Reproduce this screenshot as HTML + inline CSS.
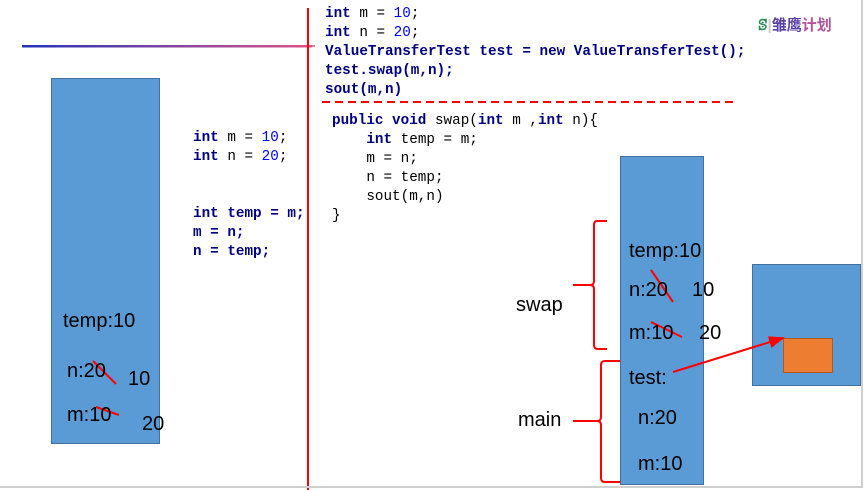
<!DOCTYPE html>
<html><head><meta charset="utf-8"><style>
body{margin:0;width:866px;height:490px;background:#fff;position:relative;overflow:hidden;font-family:"Liberation Sans",sans-serif}
.c{position:absolute;font-family:"Liberation Mono",monospace;font-size:14.3px;line-height:19px;white-space:pre;color:#000}
.k{color:#000080;font-weight:bold}.b{color:#0000ff}
.t{position:absolute;font-size:20px;line-height:20px;color:#000;white-space:pre}
</style></head><body>
<svg width="866" height="490" style="position:absolute;left:0;top:0">
<defs><linearGradient id="g" x1="0" x2="1"><stop offset="0" stop-color="#2233bb"/><stop offset="1" stop-color="#dd5588"/></linearGradient>
<marker id="a" markerWidth="8" markerHeight="8" refX="7" refY="4" orient="auto"><path d="M0,1 L8,4 L0,7z" fill="red"/></marker></defs>
<rect x="22" y="45" width="290" height="2.5" fill="url(#g)"/>
<line x1="300" y1="46" x2="315" y2="46" stroke="#dd5588" stroke-width="1.5"/>
<line x1="308" y1="8" x2="308" y2="490" stroke="red" stroke-width="2"/>
<line x1="322" y1="102" x2="738" y2="102" stroke="red" stroke-width="2" stroke-dasharray="8,5"/>
<rect x="51.5" y="78.5" width="108" height="365" fill="#5b9bd5" stroke="#41719c"/>
<rect x="620.5" y="156.5" width="83" height="328" fill="#5b9bd5" stroke="#41719c"/>
<rect x="752.5" y="264.5" width="108" height="121" fill="#5b9bd5" stroke="#41719c"/>
<rect x="783.5" y="338.5" width="49" height="34" fill="#ed7d31" stroke="#ae5a21"/>
<line x1="673" y1="372" x2="783" y2="338" stroke="red" stroke-width="2" marker-end="url(#a)"/>
<path d="M607,221 H597 Q594,221 594,225 V281 Q594,285 590,285 H573 M590,285 Q594,285 594,289 V345 Q594,349 598,349 H607" fill="none" stroke="red" stroke-width="2"/>
<path d="M620,361 H605 Q601,361 601,365 V417 Q601,421 597,421 H573 M597,421 Q601,421 601,425 V478 Q601,482 605,482 H620" fill="none" stroke="red" stroke-width="2"/>
<g stroke="red" stroke-width="2">
<line x1="93" y1="361" x2="116" y2="384"/><line x1="96" y1="407" x2="119" y2="415"/>
<line x1="651" y1="270" x2="673" y2="302"/><line x1="651" y1="322" x2="682" y2="337"/>
</g>
<line x1="862" y1="0" x2="862" y2="487" stroke="#d0d0d0" stroke-width="2"/>
<line x1="0" y1="487" x2="863" y2="487" stroke="#d0d0d0" stroke-width="2"/>
</svg>
<div class="c" style="left:325px;top:5px"><span class="k">int</span> m = <span class="b">10</span>;
<span class="k">int</span> n = <span class="b">20</span>;
<span class="k">ValueTransferTest test = new ValueTransferTest();</span>
<span class="k">test.swap(m,n);</span>
<span class="k">sout(m,n)</span></div>
<div class="c" style="left:332px;top:112px"><span class="k">public void</span> swap(<span class="k">int</span> m ,<span class="k">int</span> n){
    <span class="k">int</span> temp = m;
    m = n;
    n = temp;
    sout(m,n)
}</div>
<div class="c" style="left:193px;top:129px"><span class="k">int</span> m = <span class="b">10</span>;
<span class="k">int</span> n = <span class="b">20</span>;


<span class="k">int temp = m;
m = n;
n = temp;</span></div>
<div style="position:absolute;left:758px;top:14px;font-size:15px;font-weight:bold;font-family:'Liberation Sans','Noto Sans CJK SC',sans-serif;color:#5a3fa8"><span style="color:#2a8a5a">ꕷ</span><span style="color:#ccc">|</span>雏鹰<span style="color:#b0559a">计划</span></div>
<div class="t" style="left:63px;top:311px">temp:10</div>
<div class="t" style="left:67px;top:361px">n:20</div>
<div class="t" style="left:128px;top:369px">10</div>
<div class="t" style="left:67px;top:405px">m:10</div>
<div class="t" style="left:142px;top:414px">20</div>
<div class="t" style="left:629px;top:241px">temp:10</div>
<div class="t" style="left:629px;top:280px">n:20</div>
<div class="t" style="left:692px;top:280px">10</div>
<div class="t" style="left:629px;top:323px">m:10</div>
<div class="t" style="left:699px;top:323px">20</div>
<div class="t" style="left:629px;top:368px">test:</div>
<div class="t" style="left:638px;top:408px">n:20</div>
<div class="t" style="left:638px;top:454px">m:10</div>
<div class="t" style="left:516px;top:295px">swap</div>
<div class="t" style="left:518px;top:410px">main</div>
</body></html>
